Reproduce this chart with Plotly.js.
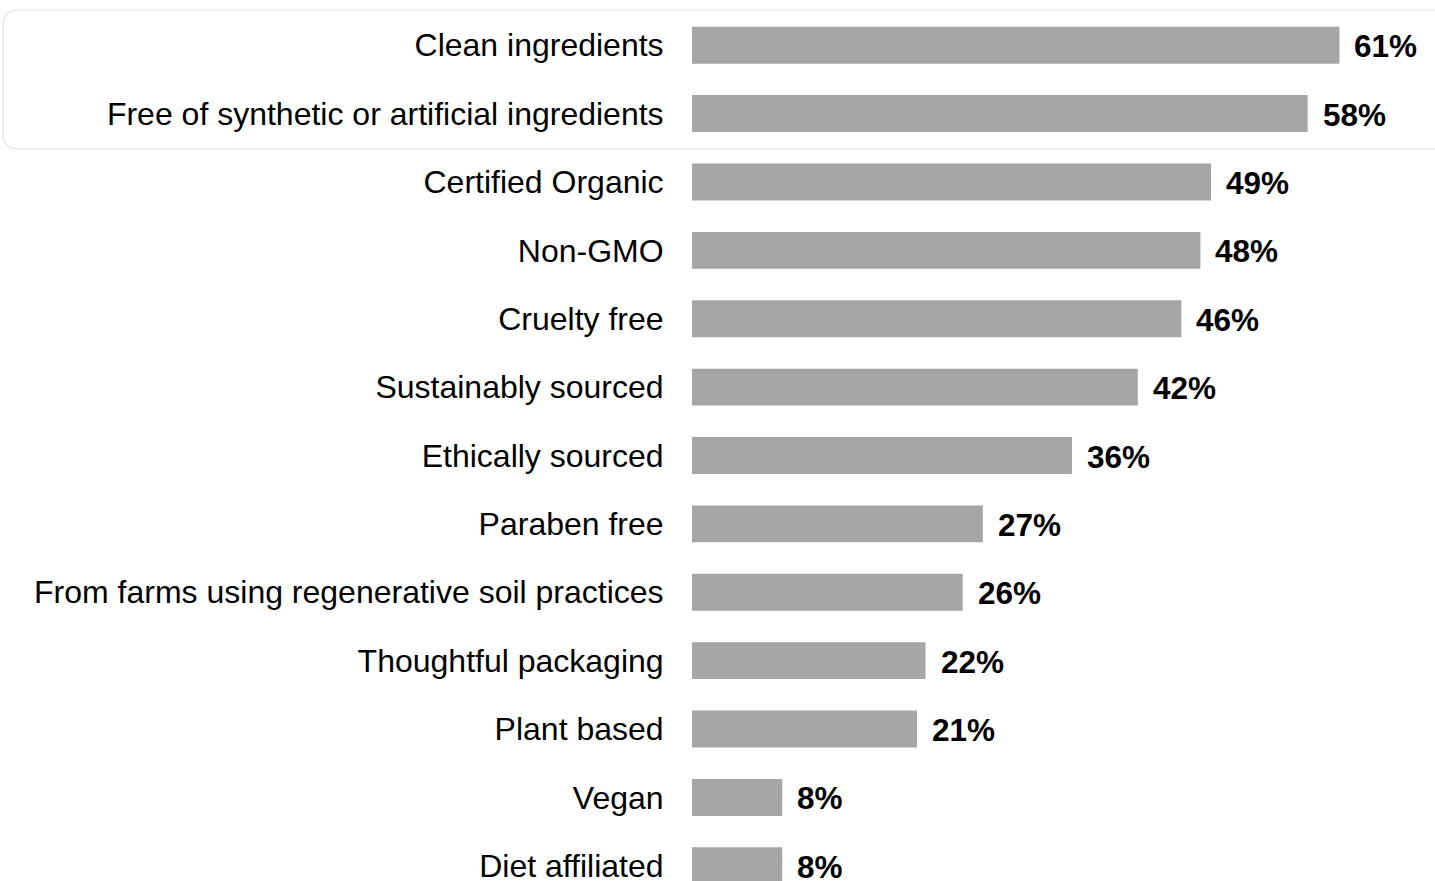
<!DOCTYPE html>
<html>
<head>
<meta charset="utf-8">
<script src="https://cdn.plot.ly/plotly-3.0.1.min.js"></script>
<style>
html,body{margin:0;padding:0;overflow:hidden;background:#fff;}
#chart{width:1435px;height:900px;}
</style>
</head>
<body>
<div id="chart"></div>
<script>
var categories = [
  "Clean ingredients",
  "Free of synthetic or artificial ingredients",
  "Certified Organic",
  "Non-GMO",
  "Cruelty free",
  "Sustainably sourced",
  "Ethically sourced",
  "Paraben free",
  "From farms using regenerative soil practices",
  "Thoughtful packaging",
  "Plant based",
  "Vegan",
  "Diet affiliated"
];
var barValues = [61, 58, 48.9, 47.9, 46.1, 42, 35.8, 27.4, 25.5, 22, 21.2, 8.5, 8.5];
var valueLabels = ["61%", "58%", "49%", "48%", "46%", "42%", "36%", "27%", "26%", "22%", "21%", "8%", "8%"];

var trace = {
  type: 'bar',
  orientation: 'h',
  y: categories,
  x: barValues,
  width: 0.54,
  marker: {color: '#a6a6a6'},
  hoverinfo: 'none'
};

var annotations = categories.map(function(c, i){
  return {
    x: barValues[i], y: c, xref: 'x', yref: 'y',
    text: '<b>' + valueLabels[i] + '</b>',
    showarrow: false, xanchor: 'left', yanchor: 'middle', xshift: 13, yshift: -1,
    font: {family: 'Liberation Sans, Arial, sans-serif', size: 31.5, color: '#000'}
  };
});

var rx = 15/743, ry = 15/889;
var x0 = -0.927, x1 = 1.02, y0 = 0.845, y1 = 1.001;
var path = 'M ' + (x0+rx) + ',' + y1 +
  ' L ' + (x1-rx) + ',' + y1 +
  ' Q ' + x1 + ',' + y1 + ' ' + x1 + ',' + (y1-ry) +
  ' L ' + x1 + ',' + (y0+ry) +
  ' Q ' + x1 + ',' + y0 + ' ' + (x1-rx) + ',' + y0 +
  ' L ' + (x0+rx) + ',' + y0 +
  ' Q ' + x0 + ',' + y0 + ' ' + x0 + ',' + (y0+ry) +
  ' L ' + x0 + ',' + (y1-ry) +
  ' Q ' + x0 + ',' + y1 + ' ' + (x0+rx) + ',' + y1 + ' Z';

var layout = {
  width: 1435, height: 900,
  margin: {l: 692, r: 0, t: 11, b: 0, pad: 0},
  paper_bgcolor: '#fff', plot_bgcolor: 'rgba(0,0,0,0)',
  showlegend: false,
  font: {family: 'Liberation Sans, Arial, sans-serif', size: 32, color: '#000'},
  xaxis: {range: [0, 70], visible: false, fixedrange: true},
  yaxis: {
    type: 'category', range: [12.5, -0.5],
    showgrid: false, zeroline: false, showline: false,
    ticks: 'outside', ticklen: 21, tickcolor: 'rgba(0,0,0,0)',
    tickfont: {family: 'Liberation Sans, Arial, sans-serif', size: 32, color: '#000'},
    fixedrange: true
  },
  shapes: [{
    type: 'path', xref: 'paper', yref: 'paper', path: path,
    line: {color: '#e6eaef', width: 1.5}, fillcolor: 'rgba(0,0,0,0)', layer: 'below'
  }],
  annotations: annotations
};

Plotly.newPlot('chart', [trace], layout, {displayModeBar: false, staticPlot: true});
</script>
</body>
</html>
